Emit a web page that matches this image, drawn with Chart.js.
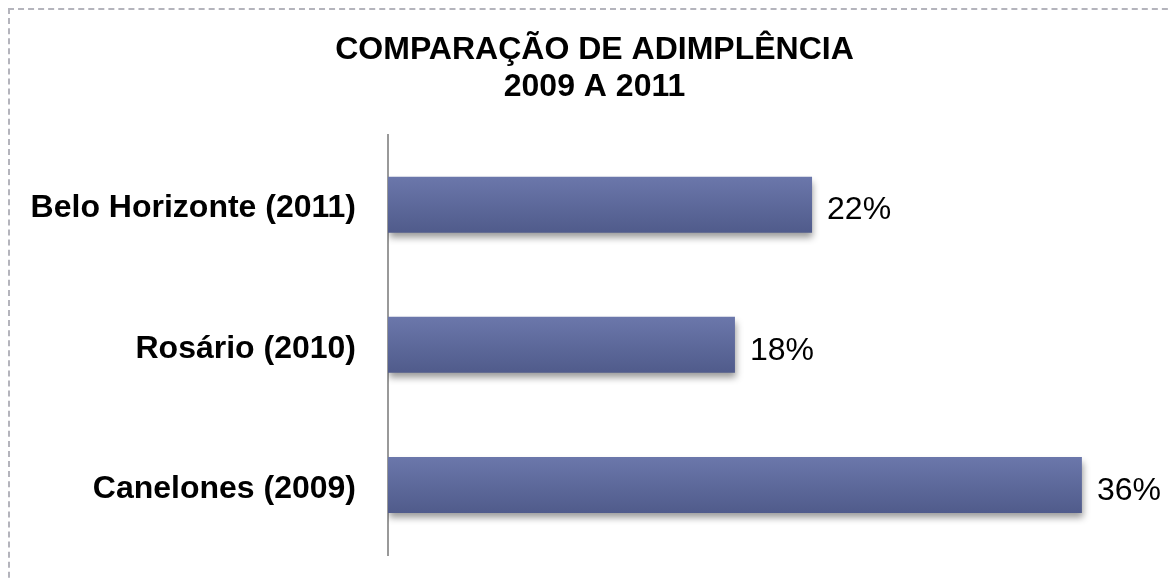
<!DOCTYPE html>
<html>
<head>
<meta charset="utf-8">
<script src="https://cdn.jsdelivr.net/npm/chart.js@4/dist/chart.umd.min.js"></script>
<style>
    html, body { margin: 0; padding: 0; background: #fff; overflow: hidden; }
    .frame { position: absolute; left: 8px; top: 8px; width: 1200px; height: 600px; border: 2px dashed #b4b4bc; box-sizing: border-box; }
    #chart { position: absolute; left: 0; top: 0; }
</style>
</head>
<body>
<div class="frame"></div>
<canvas id="chart" width="1169" height="578"></canvas>
<script>
// Chart data
const categories = ['Belo Horizonte (2011)', 'Rosário (2010)', 'Canelones (2009)'];
const adimplencia = [22, 18, 36];
const titleLines = ['COMPARAÇÃO DE ADIMPLÊNCIA', '2009 A 2011'];

const FONT = "'Liberation Sans', Arial, sans-serif";

// Soft shadow under the bars
const barShadow = {
    id: 'barShadow',
    beforeDatasetsDraw(chart) {
        const ctx = chart.ctx;
        ctx.save();
        ctx.shadowColor = 'rgba(0, 0, 0, 0.4)';
        ctx.shadowBlur = 7;
        ctx.shadowOffsetY = 5;
        ctx.shadowOffsetX = 1;
    },
    afterDatasetsDraw(chart) {
        chart.ctx.restore();
    }
};

// Percentage labels to the right of each bar
const valueLabels = {
    id: 'valueLabels',
    afterDatasetsDraw(chart) {
        const ctx = chart.ctx;
        const meta = chart.getDatasetMeta(0);
        ctx.save();
        ctx.font = '32px ' + FONT;
        ctx.fillStyle = '#000';
        ctx.textAlign = 'left';
        ctx.textBaseline = 'middle';
        meta.data.forEach((bar, i) => {
            ctx.fillText(adimplencia[i] + '%', bar.x + 15, bar.y + 6);
        });
        ctx.restore();
    }
};

function barGradient(context) {
    const chart = context.chart;
    const yScale = chart.scales.y;
    if (!chart.chartArea || !yScale || context.dataIndex === undefined) return '#5f6a9e';
    const center = yScale.getPixelForValue(context.dataIndex);
    const half = 28;
    const g = chart.ctx.createLinearGradient(0, center - half, 0, center + half);
    g.addColorStop(0, '#6b77ab');
    g.addColorStop(1, '#505b8b');
    return g;
}

new Chart(document.getElementById('chart'), {
    type: 'bar',
    data: {
        labels: categories,
        datasets: [{
            data: adimplencia,
            backgroundColor: barGradient,
            borderWidth: 0,
            barPercentage: 0.4,
            categoryPercentage: 1
        }]
    },
    plugins: [barShadow, valueLabels],
    options: {
        indexAxis: 'y',
        responsive: false,
        animation: false,
        layout: {
            padding: { top: 10, right: 10, bottom: 23, left: 30 }
        },
        plugins: {
            legend: { display: false },
            tooltip: { enabled: false },
            title: {
                display: true,
                text: titleLines,
                color: '#000',
                font: { family: FONT, size: 32, weight: 'bold', lineHeight: 1.15 },
                padding: { top: 22, bottom: 29 }
            }
        },
        scales: {
            x: {
                display: false,
                min: 0,
                max: 40
            },
            y: {
                grid: { display: false, drawTicks: false },
                border: { display: true, color: '#999999', width: 2 },
                ticks: {
                    color: '#000',
                    padding: 32,
                    labelOffset: 4,
                    font: { family: FONT, size: 32, weight: 'bold' }
                },
                afterFit(scale) {
                    scale.width = 358;
                    scale.paddingTop = 0;
                    scale.paddingBottom = 0;
                }
            }
        }
    }
});
</script>
</body>
</html>
